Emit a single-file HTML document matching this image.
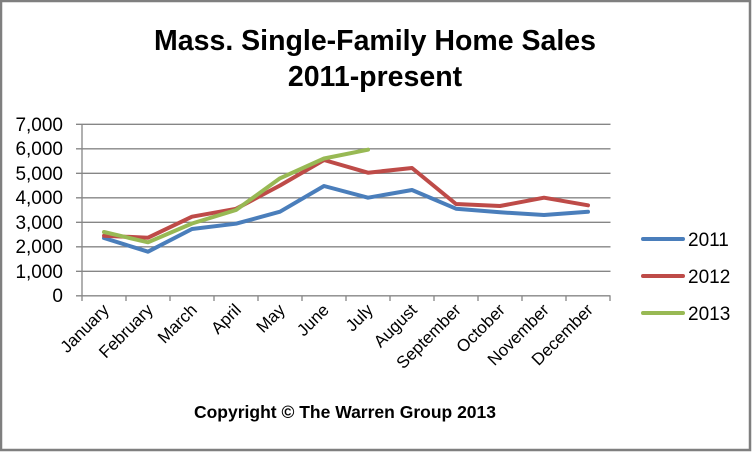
<!DOCTYPE html>
<html><head><style>
html,body{margin:0;padding:0;background:#fff;}
svg{display:block;}
text{font-family:"Liberation Sans",sans-serif;}
</style></head><body>
<svg width="752" height="452" viewBox="0 0 752 452" xmlns="http://www.w3.org/2000/svg">
<rect x="1" y="1" width="749" height="449" fill="#fff" stroke="#7f7f7f" stroke-width="2.5"/>
<text x="375" y="50" text-anchor="middle" font-size="28.5" font-weight="bold" fill="#000">Mass. Single-Family Home Sales</text>
<text x="375" y="86" text-anchor="middle" font-size="28.5" font-weight="bold" fill="#000">2011-present</text>
<g stroke="#868686" stroke-width="1.3">
<line x1="76" y1="124.3" x2="610.5" y2="124.3"/>
<line x1="76" y1="148.8" x2="610.5" y2="148.8"/>
<line x1="76" y1="173.3" x2="610.5" y2="173.3"/>
<line x1="76" y1="197.8" x2="610.5" y2="197.8"/>
<line x1="76" y1="222.3" x2="610.5" y2="222.3"/>
<line x1="76" y1="246.8" x2="610.5" y2="246.8"/>
<line x1="76" y1="271.3" x2="610.5" y2="271.3"/>
<line x1="76" y1="295.8" x2="610.5" y2="295.8"/>
<line x1="82" y1="124" x2="82" y2="301"/>
<line x1="126" y1="295.8" x2="126" y2="301"/><line x1="170" y1="295.8" x2="170" y2="301"/><line x1="214" y1="295.8" x2="214" y2="301"/><line x1="258" y1="295.8" x2="258" y2="301"/><line x1="302" y1="295.8" x2="302" y2="301"/><line x1="346" y1="295.8" x2="346" y2="301"/><line x1="390" y1="295.8" x2="390" y2="301"/><line x1="434" y1="295.8" x2="434" y2="301"/><line x1="478" y1="295.8" x2="478" y2="301"/><line x1="522" y1="295.8" x2="522" y2="301"/><line x1="566" y1="295.8" x2="566" y2="301"/><line x1="610" y1="295.8" x2="610" y2="301"/>
</g>
<g font-size="19" text-anchor="end" fill="#000">
<text x="63" y="131">7,000</text><text x="63" y="155">6,000</text><text x="63" y="180">5,000</text><text x="63" y="204">4,000</text><text x="63" y="229">3,000</text><text x="63" y="253">2,000</text><text x="63" y="278">1,000</text><text x="63" y="302">0</text>
</g>
<g font-size="17" text-anchor="end" fill="#000">
<text transform="translate(110,311) rotate(-45)">January</text>
<text transform="translate(154,311) rotate(-45)">February</text>
<text transform="translate(198,311) rotate(-45)">March</text>
<text transform="translate(242,311) rotate(-45)">April</text>
<text transform="translate(286,311) rotate(-45)">May</text>
<text transform="translate(330,311) rotate(-45)">June</text>
<text transform="translate(374,311) rotate(-45)">July</text>
<text transform="translate(418,311) rotate(-45)">August</text>
<text transform="translate(462,311) rotate(-45)">September</text>
<text transform="translate(506,311) rotate(-45)">October</text>
<text transform="translate(550,311) rotate(-45)">November</text>
<text transform="translate(594,311) rotate(-45)">December</text>
</g>
<g fill="none" stroke-width="4" stroke-linejoin="round" stroke-linecap="round">
<polyline stroke="#4a7ebb" points="104,238 148,251.7 192,229 236,223.7 280,211.7 324,186 368,197.7 412,190 456,208.7 500,212.3 544,215 588,211.7"/>
<polyline stroke="#be4b48" points="104,235.8 148,237.7 192,216.7 236,208.8 280,185.5 324,160 368,172.7 412,168 456,204 500,206 544,197.7 588,205.3"/>
<polyline stroke="#98b954" points="104,232 148,242.3 192,223.5 236,210 280,178.3 324,158.5 368,149.7"/>
</g>
<g stroke-width="4" stroke-linecap="round">
<line x1="643" y1="239" x2="683" y2="239" stroke="#4a7ebb"/>
<line x1="643" y1="276" x2="683" y2="276" stroke="#be4b48"/>
<line x1="643" y1="313" x2="683" y2="313" stroke="#98b954"/>
</g>
<g font-size="19" fill="#000">
<text x="688" y="246">2011</text><text x="688" y="283">2012</text><text x="688" y="320">2013</text>
</g>
<text x="345" y="418" text-anchor="middle" font-size="17.5" font-weight="bold" fill="#000">Copyright © The Warren Group 2013</text>
</svg>
</body></html>
